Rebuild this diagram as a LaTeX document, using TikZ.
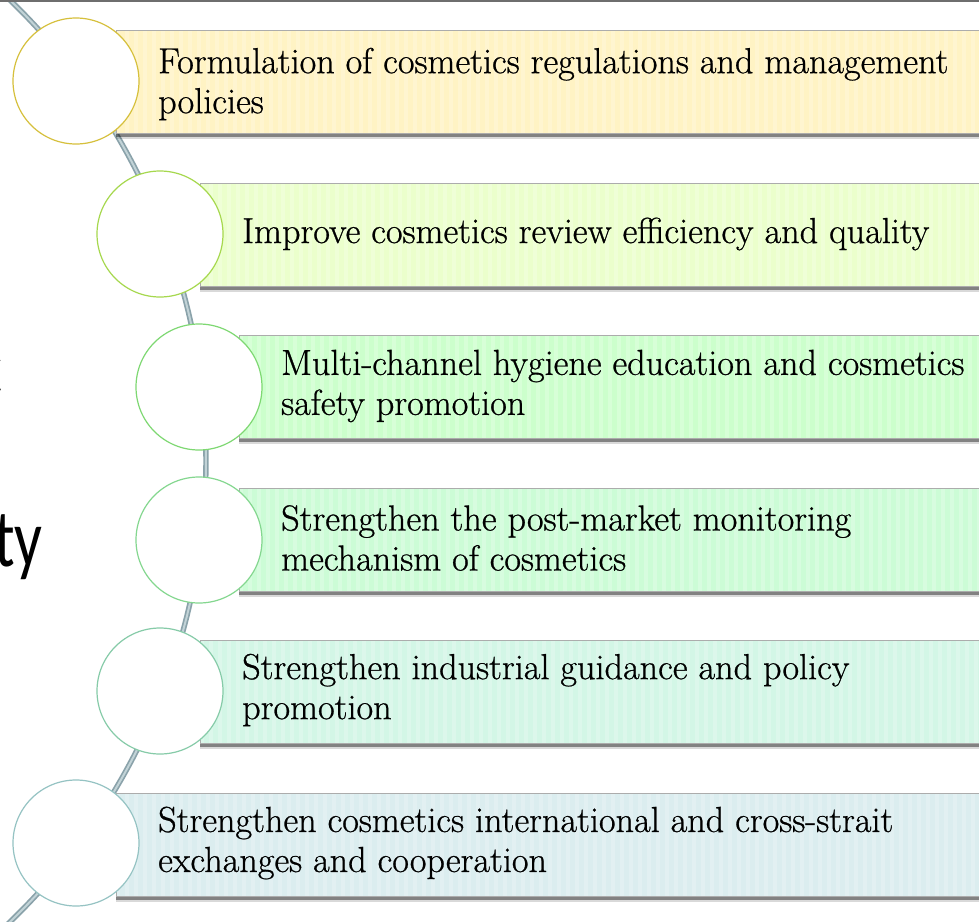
\documentclass[tikz,border=0pt]{standalone}
\usepackage{fontspec}
\newfontfamily\sansf{Carlito}
\newfontfamily\boxf[FakeBold=0.7]{Latin Modern Roman}
\usetikzlibrary{shadows}
\definecolor{f1}{HTML}{FFF3C4}\definecolor{b1}{HTML}{D6C03C}
\definecolor{f2}{HTML}{EBFFCC}\definecolor{b2}{HTML}{A6D84E}
\definecolor{f3}{HTML}{CCFFCC}\definecolor{b3}{HTML}{7ED872}
\definecolor{f4}{HTML}{CCFCD6}\definecolor{b4}{HTML}{84D78F}
\definecolor{f5}{HTML}{D3F6E6}\definecolor{b5}{HTML}{86CBA8}
\definecolor{f6}{HTML}{DBEDEF}\definecolor{b6}{HTML}{95C3C3}
\definecolor{tubeout}{HTML}{8AA2AA}\definecolor{tubein}{HTML}{C2D3D7}
\definecolor{topgray}{HTML}{6E6E6E}
\tikzset{
  rbox/.style={rectangle, anchor=north west, minimum width=880pt, minimum height=103pt,
    inner sep=0pt, draw=gray!65, line width=0.8pt,
    drop shadow={shadow xshift=0pt, shadow yshift=-6pt, fill=black, opacity=0.15},
    drop shadow={shadow xshift=0pt, shadow yshift=-3.5pt, fill=black, opacity=0.4},
    path picture={
      \foreach \i in {0,...,100}{
        \fill[white, opacity=0.22] ([xshift=\i*9pt]path picture bounding box.south west) rectangle ++(3.5pt,110pt);
      }
    }},
  circ/.style={circle, minimum size=126pt, inner sep=0pt, fill=white, line width=1.2pt},
  txt/.style={anchor=west, inner sep=0pt, align=left, font=\boxf\fontsize{36.2}{40}\selectfont, text=black},
  tube/.style={draw=tubeout, double=tubein, double distance=2pt, line width=1.7pt},
  bigtxt/.style={inner sep=0pt, font=\sansf\fontsize{82}{82}\selectfont, text=black}
}
\begin{document}
\begin{tikzpicture}[x=1pt,y=-1pt]
\useasboundingbox (0,0) rectangle (979,921);
\clip (0,0) rectangle (979,921);
\fill[white] (0,0) rectangle (979,921);
% left title fragments
\node[bigtxt, anchor=base east] (frag1) at (3,395) {\scalebox{0.75}[1]{c}};
\node[bigtxt, anchor=base west] (frag2) at (-6,566) {\scalebox{0.75}[1]{ty}};
% connecting arc
\draw[tube] (-5.8,-14.6) arc[start angle=-48, end angle=48, radius=640];
% boxes
\node[rbox, fill=f1] (r1) at (116,30) {};
\node[rbox, fill=f2] (r2) at (200,183) {};
\node[rbox, fill=f3] (r3) at (239,335) {};
\node[rbox, fill=f4] (r4) at (239,488) {};
\node[rbox, fill=f5] (r5) at (200,640) {};
\node[rbox, fill=f6] (r6) at (116,793) {};
% circles
\node[circ, draw=b1] (c1) at (76,81) {};
\node[circ, draw=b2] (c2) at (160,234) {};
\node[circ, draw=b3] (c3) at (199,387) {};
\node[circ, draw=b4] (c4) at (199,540) {};
\node[circ, draw=b5] (c5) at (160,691) {};
\node[circ, draw=b6] (c6) at (76,843) {};
% texts
\node[txt] (t1) at (158,84) {Formulation of cosmetics regulations and management\\policies};
\node[txt] (t2) at (242,234) {Improve cosmetics review efficiency and quality};
\node[txt] (t3) at (281,386) {Multi-channel hygiene education and cosmetics\\safety promotion};
\node[txt] (t4) at (281,538) {Strengthen the post-market monitoring\\mechanism of cosmetics};
\node[txt] (t5) at (242,690) {Strengthen industrial guidance and policy\\promotion};
\node[txt] (t6) at (158,843) {Strengthen cosmetics international and cross-strait\\exchanges and cooperation};
% top edge
\coordinate (tl) at (0,1);
\coordinate (tr) at (979,1);
\draw[topgray, line width=2.5pt] (tl) -- (tr);
\end{tikzpicture}
\end{document}
